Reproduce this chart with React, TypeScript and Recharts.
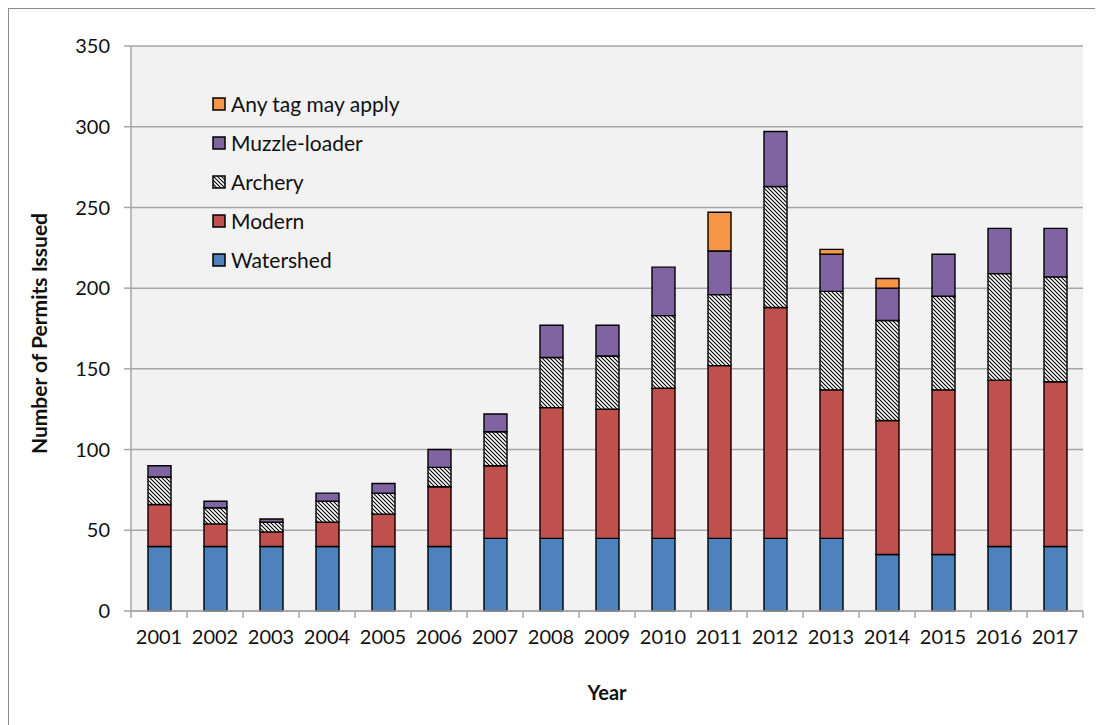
import React from "react";
import { BarChart, Bar, XAxis, YAxis, CartesianGrid, Label } from "recharts";

const years = ["2001","2002","2003","2004","2005","2006","2007","2008","2009","2010","2011","2012","2013","2014","2015","2016","2017"];
const watershed = [40,40,40,40,40,40,45,45,45,45,45,45,45,35,35,40,40];
const modern = [26,14,9,15,20,37,45,81,80,93,107,143,92,83,102,103,102];
const archery = [17,10,6,13,13,12,21,31,33,45,44,75,61,62,58,66,65];
const muzzle = [7,4,2,5,6,11,11,20,19,30,27,34,23,20,26,28,30];
const anyTag = [0,0,0,0,0,0,0,0,0,0,24,0,3,6,0,0,0];
const yTicks = [0,50,100,150,200,250,300,350];

const seriesNames = ["Watershed","Modern","Archery","Muzzle-loader","Any tag may apply"];
const seriesKeys = ["watershed","modern","archery","muzzle","anyTag"];
const seriesFills = ["#4f81bd","#c0504d","url(#hatch)","#8064a2","#f79646"];

const data = years.map((y, i) => ({
  year: y,
  watershed: watershed[i],
  modern: modern[i],
  archery: archery[i],
  muzzle: muzzle[i],
  anyTag: anyTag[i],
}));

const W = 1094;
const H = 716;
const M = { top: 37, right: 20, left: 20, bottom: 84 };
const YW = 102;
const PLOT_W = W - M.left - YW - M.right;
const BAND = PLOT_W / years.length;
const FONT = "Lato, 'Open Sans', sans-serif";
const GRID = "#a6a6a6";

const XTick = (props: any) => {
  const { x, y, payload, index } = props;
  const h = BAND / 2;
  return (
    <g>
      <line x1={x - h} x2={x - h} y1={y} y2={y + 7} stroke={GRID} strokeWidth={1.5} />
      {index === years.length - 1 && (
        <line x1={x + h} x2={x + h} y1={y} y2={y + 7} stroke={GRID} strokeWidth={1.5} />
      )}
      <text x={x} y={y + 26} dy="0.355em" textAnchor="middle" fontSize={20} fill="#111" fontFamily={FONT}>
        {payload.value}
      </text>
    </g>
  );
};

const LegendBox = () => {
  const order = [4, 3, 2, 1, 0];
  return (
    <div style={{ position: "absolute", left: 203, top: 75, fontFamily: FONT, fontSize: 21, color: "#111" }}>
      {order.map((i) => (
        <div key={i} style={{ display: "flex", alignItems: "center", height: 39 }}>
          <svg width={14} height={14} style={{ marginRight: 5 }}>
            <rect x={1} y={1} width={12} height={12} fill={seriesFills[i]} stroke="#000" strokeWidth={1.5} />
          </svg>
          <span>{seriesNames[i]}</span>
        </div>
      ))}
    </div>
  );
};

export default function App() {
  return (
    <div style={{ width: W, height: H, border: "1.5px solid #8c8c8c", background: "#fff", position: "relative" }}>
      <BarChart width={W} height={H} data={data} margin={M} barSize={23}>
        <defs>
          <pattern id="hatch" patternUnits="userSpaceOnUse" width={4} height={4}>
            <rect x={0} y={0} width={4} height={4} fill="#fff" />
            <path d="M-1,-1 L5,5 M-1,3 L1,5 M3,-1 L5,1" stroke="#000" strokeWidth={1.1} />
          </pattern>
        </defs>
        <CartesianGrid vertical={false} stroke={GRID} strokeWidth={1.5} fill="#f2f2f2" />
        <XAxis
          dataKey="year"
          height={30}
          stroke={GRID}
          strokeWidth={1.5}
          tickLine={false}
          tickSize={0}
          tickMargin={0}
          tick={<XTick />}
          interval={0}
        >
          <Label
            content={(p: any) => (
              <text x={p.viewBox.x + p.viewBox.width / 2} y={p.viewBox.y + 82} dy="0.355em" textAnchor="middle"
                fontSize={20} fontWeight="bold" fontFamily={FONT} fill="#111">Year</text>
            )}
          />
        </XAxis>
        <YAxis
          width={YW}
          domain={[0, 350]}
          ticks={yTicks}
          interval={0}
          stroke={GRID}
          strokeWidth={1.5}
          tickSize={7}
          tickMargin={14}
          tick={{ fontSize: 20, fill: "#111", fontFamily: FONT }}
        >
          <Label
            content={(p: any) => {
              const cx = 31;
              const cy = p.viewBox.y + p.viewBox.height / 2 + 5;
              return (
                <text x={cx} y={cy} dy="0.355em" textAnchor="middle" transform={`rotate(-90, ${cx}, ${cy})`}
                  fontSize={21} fontWeight="bold" fontFamily={FONT} fill="#111">Number of Permits Issued</text>
              );
            }}
          />
        </YAxis>
        {seriesKeys.map((k, i) => (
          <Bar key={k} dataKey={k} stackId="a" fill={seriesFills[i]} stroke="#000" strokeWidth={1.4} isAnimationActive={false} />
        ))}
      </BarChart>
      <LegendBox />
    </div>
  );
}
